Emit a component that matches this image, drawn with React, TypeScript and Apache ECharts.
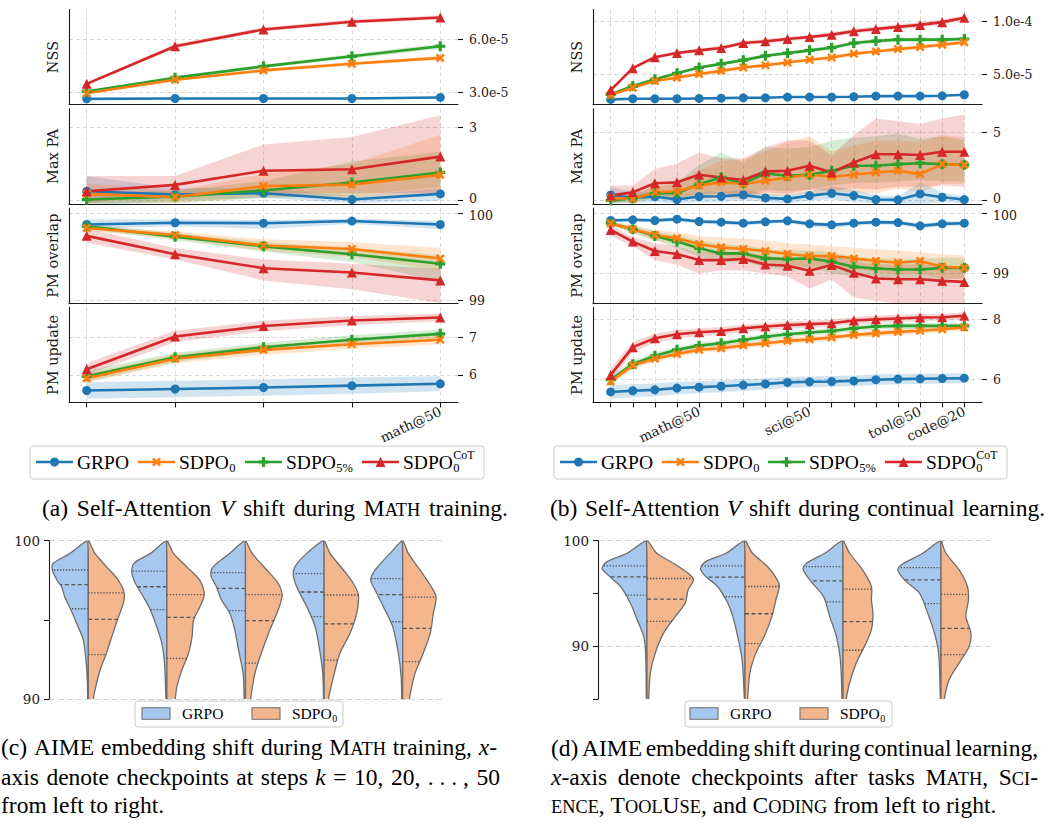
import React, { useEffect, useRef } from 'react';
import * as echarts from 'echarts';

// ---------------- data ----------------
const SERIES_NAMES = ['GRPO', 'SDPO_0', 'SDPO_5%', 'SDPO_0^CoT'];
const COLORS = ['#1f77b4', '#ff7f0e', '#2ca02c', '#d62728'];
const METRIC_NAMES = ['NSS', 'Max PA', 'PM overlap', 'PM update'];

const A_X_LABELS = ['math@10', 'math@20', 'math@30', 'math@40', 'math@50'];
const A_X_SHOWN = [4];
const B_X_LABELS = ['math@10', 'math@20', 'math@30', 'math@40', 'math@50', 'sci@10', 'sci@20', 'sci@30', 'sci@40', 'sci@50',
  'tool@10', 'tool@20', 'tool@30', 'tool@40', 'tool@50', 'code@10', 'code@20'];
const B_X_SHOWN = [4, 9, 14, 16];

// (a) NSS
const A_NSS_MEAN = [
  [2.62e-5, 2.64e-5, 2.64e-5, 2.64e-5, 2.70e-5],
  [2.94e-5, 3.70e-5, 4.23e-5, 4.61e-5, 4.94e-5],
  [3.04e-5, 3.82e-5, 4.46e-5, 5.03e-5, 5.60e-5],
  [3.47e-5, 5.60e-5, 6.55e-5, 6.99e-5, 7.23e-5],
];
const A_NSS_SD = [
  [0.05e-5, 0.05e-5, 0.05e-5, 0.05e-5, 0.05e-5],
  [0.05e-5, 0.08e-5, 0.1e-5, 0.1e-5, 0.1e-5],
  [0.05e-5, 0.08e-5, 0.1e-5, 0.12e-5, 0.15e-5],
  [0.08e-5, 0.12e-5, 0.12e-5, 0.12e-5, 0.12e-5],
];
// (a) Max PA
const A_MAXPA_MEAN = [
  [0.38, 0.24, 0.30, 0.04, 0.27],
  [0.27, 0.14, 0.59, 0.65, 1.05],
  [0.04, 0.16, 0.41, 0.74, 1.15],
  [0.38, 0.64, 1.22, 1.28, 1.80],
];
const A_MAXPA_LO = [
  [-0.2, 0.0, 0.1, -0.1, 0.0],
  [-0.1, -0.1, 0.15, 0.1, 0.3],
  [-0.2, -0.1, 0.1, 0.2, 0.55],
  [-0.1, 0.3, 0.3, 0.3, 0.3],
];
const A_MAXPA_HI = [
  [1.0, 0.5, 0.5, 0.2, 0.5],
  [0.7, 0.4, 1.1, 1.5, 2.7],
  [0.3, 0.4, 0.8, 1.6, 2.0],
  [1.0, 1.0, 2.3, 2.6, 3.5],
];
// (a) PM overlap
const A_PMO_MEAN = [
  [99.87, 99.89, 99.885, 99.91, 99.87],
  [99.83, 99.75, 99.63, 99.59, 99.48],
  [99.85, 99.73, 99.62, 99.53, 99.42],
  [99.74, 99.53, 99.37, 99.32, 99.23],
];
const A_PMO_LO = [
  [99.82, 99.85, 99.82, 99.88, 99.82],
  [99.80, 99.71, 99.57, 99.50, 99.34],
  [99.82, 99.69, 99.56, 99.44, 99.22],
  [99.66, 99.47, 99.23, 99.13, 98.97],
];
const A_PMO_HI = [
  [99.93, 99.93, 99.92, 99.94, 99.91],
  [99.86, 99.79, 99.70, 99.67, 99.60],
  [99.88, 99.77, 99.67, 99.60, 99.52],
  [99.82, 99.60, 99.47, 99.42, 99.36],
];
// (a) PM update
const A_PMU_MEAN = [
  [5.58, 5.62, 5.66, 5.71, 5.76],
  [5.91, 6.43, 6.67, 6.82, 6.94],
  [5.96, 6.47, 6.74, 6.94, 7.10],
  [6.15, 7.03, 7.31, 7.46, 7.54],
];
const A_PMU_SD = [
  [0.22, 0.22, 0.22, 0.22, 0.2],
  [0.12, 0.12, 0.13, 0.12, 0.12],
  [0.15, 0.12, 0.12, 0.12, 0.12],
  [0.16, 0.15, 0.14, 0.12, 0.1],
];
const A_Y_RANGE = [[2.3e-5, 7.68e-5], [-0.135, 3.76], [98.97, 100.058], [5.26, 7.81]];
const A_Y_TICKS = [[3e-5, 6e-5], [0, 3], [99, 100], [6, 7]];

// (b) NSS
const B_NSS_MEAN = [
  [2.63e-5, 2.69e-5, 2.69e-5, 2.69e-5, 2.72e-5, 2.75e-5, 2.78e-5, 2.78e-5, 2.85e-5, 2.85e-5, 2.85e-5, 2.88e-5, 2.94e-5, 2.94e-5, 2.94e-5, 2.97e-5, 3.07e-5],
  [3.04e-5, 3.73e-5, 4.37e-5, 4.68e-5, 5.03e-5, 5.32e-5, 5.63e-5, 5.85e-5, 6.11e-5, 6.36e-5, 6.58e-5, 6.93e-5, 7.15e-5, 7.37e-5, 7.56e-5, 7.78e-5, 8.01e-5],
  [3.10e-5, 3.89e-5, 4.53e-5, 5.09e-5, 5.63e-5, 5.98e-5, 6.33e-5, 6.74e-5, 6.99e-5, 7.25e-5, 7.50e-5, 7.94e-5, 8.13e-5, 8.26e-5, 8.26e-5, 8.26e-5, 8.32e-5],
  [3.51e-5, 5.57e-5, 6.61e-5, 7.00e-5, 7.25e-5, 7.47e-5, 7.94e-5, 8.10e-5, 8.32e-5, 8.51e-5, 8.73e-5, 9.05e-5, 9.27e-5, 9.46e-5, 9.65e-5, 9.91e-5, 10.32e-5],
];
const B_NSS_SD = [
  [0.05e-5, 0.05e-5, 0.05e-5, 0.05e-5, 0.05e-5, 0.05e-5, 0.05e-5, 0.05e-5, 0.05e-5, 0.05e-5, 0.05e-5, 0.05e-5, 0.05e-5, 0.05e-5, 0.05e-5, 0.05e-5, 0.05e-5],
  [0.08e-5, 0.1e-5, 0.12e-5, 0.12e-5, 0.14e-5, 0.15e-5, 0.15e-5, 0.16e-5, 0.16e-5, 0.17e-5, 0.17e-5, 0.18e-5, 0.18e-5, 0.18e-5, 0.18e-5, 0.2e-5, 0.2e-5],
  [0.08e-5, 0.1e-5, 0.12e-5, 0.13e-5, 0.14e-5, 0.15e-5, 0.16e-5, 0.17e-5, 0.18e-5, 0.18e-5, 0.19e-5, 0.2e-5, 0.2e-5, 0.2e-5, 0.2e-5, 0.2e-5, 0.2e-5],
  [0.12e-5, 0.15e-5, 0.16e-5, 0.17e-5, 0.18e-5, 0.18e-5, 0.2e-5, 0.2e-5, 0.2e-5, 0.21e-5, 0.22e-5, 0.22e-5, 0.23e-5, 0.23e-5, 0.24e-5, 0.25e-5, 0.25e-5],
];
// (b) Max PA
const B_MAXPA_MEAN = [
  [0.41, 0.19, 0.29, 0.07, 0.29, 0.31, 0.41, 0.19, 0.12, 0.36, 0.53, 0.36, 0.07, 0.05, 0.48, 0.24, 0.07],
  [0.19, 0.12, 0.60, 0.68, 1.09, 1.33, 1.21, 1.45, 1.69, 1.88, 1.74, 1.88, 2.05, 2.17, 1.93, 2.66, 2.61],
  [0.0, 0.17, 0.53, 0.53, 1.21, 1.69, 1.26, 1.98, 1.81, 1.88, 2.17, 2.54, 2.54, 2.66, 2.73, 2.66, 2.61],
  [0.36, 0.60, 1.26, 1.33, 1.88, 1.69, 1.50, 2.13, 2.17, 2.54, 2.05, 2.78, 3.38, 3.38, 3.33, 3.57, 3.57],
];
const B_MAXPA_LO = [
  [-0.2, -0.2, -0.1, -0.2, -0.1, -0.1, 0.0, -0.1, -0.2, 0.0, 0.1, -0.1, -0.2, -0.2, -0.3, -0.1, -0.2],
  [-0.1, -0.1, 0.2, 0.2, 0.1, 0.2, 0.1, 0.3, 0.4, 0.5, 0.6, 0.6, 0.5, 0.9, 0.6, 1.2, 1.2],
  [-0.2, -0.1, 0.1, 0.0, 0.3, 0.6, 0.3, 0.8, 0.7, 0.8, 1.1, 1.3, 1.3, 1.4, 1.5, 1.4, 1.4],
  [-0.2, 0.1, 0.4, 0.3, 0.5, 0.5, 0.3, 0.6, 0.5, 0.8, 0.7, 0.9, 0.8, 1.0, 1.0, 1.1, 1.0],
];
const B_MAXPA_HI = [
  [1.0, 0.6, 0.6, 0.3, 0.6, 0.6, 0.8, 0.5, 0.4, 0.7, 1.0, 0.8, 0.4, 0.3, 1.3, 0.6, 0.3],
  [0.5, 0.4, 1.0, 1.2, 2.2, 2.9, 3.0, 3.6, 4.3, 4.7, 3.6, 4.0, 4.4, 4.4, 4.3, 4.8, 4.6],
  [0.3, 0.5, 1.0, 1.3, 2.6, 3.5, 2.8, 3.9, 3.8, 3.9, 4.4, 4.6, 4.7, 4.9, 4.5, 4.7, 4.4],
  [1.1, 1.1, 2.3, 2.7, 3.5, 3.1, 3.1, 3.9, 4.4, 4.4, 3.3, 4.8, 6.0, 5.8, 5.6, 6.0, 6.3],
];
// (b) PM overlap
const B_PMO_MEAN = [
  [99.878, 99.889, 99.878, 99.9, 99.861, 99.85, 99.833, 99.856, 99.872, 99.822, 99.806, 99.833, 99.85, 99.844, 99.789, 99.822, 99.833],
  [99.833, 99.733, 99.639, 99.583, 99.483, 99.433, 99.406, 99.372, 99.322, 99.289, 99.289, 99.25, 99.206, 99.178, 99.206, 99.111, 99.094],
  [99.833, 99.733, 99.622, 99.528, 99.417, 99.333, 99.333, 99.25, 99.239, 99.25, 99.194, 99.111, 99.083, 99.067, 99.067, 99.094, 99.094],
  [99.722, 99.528, 99.372, 99.322, 99.222, 99.222, 99.239, 99.15, 99.128, 99.044, 99.139, 99.011, 98.917, 98.906, 98.906, 98.878, 98.861],
];
const B_PMO_LO = [
  [99.85, 99.86, 99.85, 99.87, 99.82, 99.81, 99.79, 99.82, 99.84, 99.78, 99.75, 99.79, 99.81, 99.80, 99.75, 99.78, 99.79],
  [99.80, 99.67, 99.55, 99.48, 99.35, 99.30, 99.25, 99.20, 99.15, 99.10, 99.10, 99.07, 99.02, 98.98, 99.00, 98.92, 98.90],
  [99.80, 99.68, 99.55, 99.42, 99.28, 99.18, 99.20, 99.10, 99.05, 99.10, 99.00, 98.95, 98.92, 98.88, 98.90, 98.90, 98.92],
  [99.62, 99.45, 99.22, 99.15, 99.00, 99.05, 99.05, 99.00, 98.95, 98.75, 98.90, 98.60, 98.55, 98.50, 98.50, 98.45, 98.45],
];
const B_PMO_HI = [
  [99.91, 99.92, 99.91, 99.93, 99.89, 99.88, 99.87, 99.89, 99.90, 99.86, 99.84, 99.87, 99.88, 99.88, 99.83, 99.86, 99.87],
  [99.87, 99.80, 99.72, 99.68, 99.62, 99.60, 99.58, 99.55, 99.50, 99.48, 99.45, 99.43, 99.40, 99.38, 99.35, 99.32, 99.30],
  [99.86, 99.78, 99.70, 99.63, 99.55, 99.48, 99.47, 99.40, 99.38, 99.38, 99.35, 99.28, 99.25, 99.25, 99.24, 99.26, 99.26],
  [99.80, 99.60, 99.50, 99.45, 99.35, 99.35, 99.35, 99.30, 99.25, 99.25, 99.30, 99.20, 99.15, 99.15, 99.15, 99.15, 99.10],
];
// (b) PM update
const B_PMU_MEAN = [
  [5.57, 5.61, 5.64, 5.70, 5.73, 5.76, 5.80, 5.84, 5.89, 5.91, 5.92, 5.94, 5.98, 6.00, 6.01, 6.02, 6.03],
  [5.92, 6.46, 6.68, 6.84, 6.98, 7.03, 7.13, 7.20, 7.28, 7.33, 7.39, 7.48, 7.53, 7.58, 7.62, 7.67, 7.73],
  [5.98, 6.50, 6.78, 6.98, 7.12, 7.20, 7.31, 7.42, 7.50, 7.56, 7.61, 7.70, 7.76, 7.78, 7.78, 7.78, 7.78],
  [6.14, 7.07, 7.37, 7.50, 7.57, 7.61, 7.70, 7.76, 7.81, 7.84, 7.87, 7.96, 8.00, 8.03, 8.06, 8.07, 8.12],
];
const B_PMU_SD = [
  [0.22, 0.22, 0.21, 0.21, 0.2, 0.2, 0.2, 0.19, 0.19, 0.18, 0.18, 0.18, 0.18, 0.17, 0.17, 0.17, 0.17],
  [0.12, 0.12, 0.11, 0.11, 0.1, 0.1, 0.1, 0.1, 0.1, 0.1, 0.1, 0.1, 0.1, 0.1, 0.1, 0.1, 0.1],
  [0.15, 0.12, 0.11, 0.1, 0.1, 0.1, 0.1, 0.1, 0.1, 0.1, 0.1, 0.1, 0.1, 0.1, 0.1, 0.1, 0.1],
  [0.22, 0.17, 0.15, 0.14, 0.13, 0.13, 0.12, 0.12, 0.12, 0.12, 0.12, 0.12, 0.12, 0.12, 0.12, 0.12, 0.12],
];
const B_Y_RANGE = [[2.15e-5, 1.11e-4], [-0.24, 6.71], [98.51, 100.083], [5.22, 8.4]];
const B_Y_TICKS = [[5e-5, 1e-4], [0, 5], [99, 100], [6, 8]];

// (c) violins: profile = [value, half width in category units], quartiles = [Q1, median, Q3]
const C_GRPO_PROFILES = [
  [[100, 0], [99.2, 0.233], [98.57, 0.445], [98.15, 0.458], [97.52, 0.40], [97.09, 0.34], [96.46, 0.30], [95.62, 0.22], [94.57, 0.13], [93.73, 0.064], [92.46, 0.03], [91.2, 0.013], [90, 0.008], [89, 0.006]],
  [[100, 0], [99.2, 0.21], [98.57, 0.42], [97.94, 0.445], [97.31, 0.40], [96.46, 0.30], [95.62, 0.21], [94.57, 0.13], [93.52, 0.064], [92.25, 0.03], [90, 0.013], [89, 0.01]],
  [[100, 0], [99.2, 0.2], [98.36, 0.41], [97.83, 0.44], [97.09, 0.37], [96.25, 0.305], [95.41, 0.2], [94.36, 0.136], [92.88, 0.08], [91.62, 0.03], [90, 0.017], [89, 0.012]],
  [[100, 0], [99.2, 0.22], [98.36, 0.37], [97.73, 0.39], [96.88, 0.33], [95.83, 0.22], [94.57, 0.114], [92.88, 0.05], [91.62, 0.017], [90, 0.008], [89, 0.006]],
  [[100, 0], [99.2, 0.16], [98.15, 0.35], [97.52, 0.407], [96.88, 0.35], [95.83, 0.246], [94.57, 0.127], [92.88, 0.055], [91.41, 0.02], [90, 0.013], [89, 0.01]],
];
const C_SDPO_PROFILES = [
  [[100, 0], [99.2, 0.085], [98.36, 0.23], [97.52, 0.38], [96.67, 0.458], [96.04, 0.445], [94.99, 0.37], [93.94, 0.30], [92.88, 0.23], [91.83, 0.15], [90.57, 0.085], [90, 0.064], [89, 0.04]],
  [[100, 0], [99.2, 0.085], [98.36, 0.25], [97.52, 0.415], [96.57, 0.475], [95.83, 0.42], [94.99, 0.34], [93.94, 0.32], [92.88, 0.275], [91.83, 0.19], [90.78, 0.127], [90, 0.106], [89, 0.08]],
  [[100, 0], [99.2, 0.085], [98.15, 0.27], [97.31, 0.415], [96.57, 0.466], [95.62, 0.415], [94.36, 0.31], [92.88, 0.2], [91.62, 0.12], [90, 0.064], [89, 0.04]],
  [[100, 0], [99.2, 0.076], [98.15, 0.246], [97.31, 0.37], [96.57, 0.436], [95.41, 0.415], [94.15, 0.33], [92.88, 0.2], [91.41, 0.12], [90, 0.055], [89, 0.04]],
  [[100, 0], [99.2, 0.072], [98.15, 0.22], [97.2, 0.35], [96.46, 0.424], [95.41, 0.39], [94.15, 0.35], [92.88, 0.26], [91.62, 0.157], [90, 0.085], [89, 0.07]],
];
const C_GRPO_QUARTILES = [[95.7, 97.22, 98.15], [95.64, 97.09, 98.08], [95.58, 96.99, 97.98], [95.2, 96.76, 97.92], [94.88, 96.59, 97.6]];
const C_SDPO_QUARTILES = [[92.8, 95.03, 96.7], [92.57, 95.16, 96.59], [92.27, 94.95, 96.59], [92.46, 94.74, 96.57], [92.36, 94.46, 96.44]];

// (d) violins
const D_GRPO_PROFILES = [
  [[100, 0], [98.81, 0.203], [98.02, 0.407], [97.39, 0.458], [96.76, 0.4], [95.66, 0.27], [94.09, 0.17], [92.52, 0.1], [90.94, 0.034], [89.37, 0.014], [85.06, 0.007], [84.5, 0.006]],
  [[100, 0], [98.81, 0.193], [98.02, 0.4], [97.39, 0.454], [96.6, 0.4], [95.66, 0.28], [94.09, 0.176], [92.83, 0.125], [90.94, 0.075], [88.74, 0.03], [85.06, 0.007], [84.5, 0.006]],
  [[100, 0], [98.81, 0.186], [97.86, 0.373], [97.3, 0.407], [96.29, 0.34], [94.72, 0.2], [92.83, 0.136], [90.94, 0.068], [88.74, 0.027], [85.06, 0.01], [84.5, 0.01]],
  [[100, 0], [98.81, 0.186], [97.7, 0.407], [97.23, 0.44], [96.29, 0.373], [95.03, 0.22], [93.14, 0.136], [91.26, 0.068], [89.37, 0.024], [85.06, 0.007], [84.5, 0.006]],
];
const D_SDPO_PROFILES = [
  [[100, 0], [98.81, 0.1], [97.86, 0.27], [96.92, 0.42], [96.29, 0.475], [95.35, 0.42], [94.09, 0.39], [92.83, 0.29], [91.26, 0.17], [89.37, 0.085], [87.48, 0.034], [85.06, 0.017], [84.5, 0.015]],
  [[100, 0], [98.81, 0.078], [97.55, 0.23], [96.29, 0.33], [95.66, 0.35], [94.4, 0.315], [92.83, 0.275], [90.94, 0.197], [89.37, 0.112], [87.48, 0.05], [85.06, 0.027], [84.5, 0.025]],
  [[100, 0], [98.81, 0.068], [97.23, 0.2], [95.66, 0.29], [94.4, 0.29], [93.14, 0.305], [91.57, 0.29], [90, 0.22], [88.43, 0.136], [86.54, 0.068], [85.06, 0.034], [84.5, 0.03]],
  [[100, 0], [98.81, 0.05], [97.23, 0.186], [95.66, 0.27], [94.4, 0.28], [92.83, 0.254], [91.26, 0.305], [90, 0.288], [88.43, 0.186], [86.86, 0.085], [85.06, 0.034], [84.5, 0.03]],
];
const D_GRPO_QUARTILES = [[94.84, 96.57, 97.61], [94.69, 96.54, 97.61], [94.21, 96.2, 97.55], [94.03, 96.29, 97.45]];
const D_SDPO_QUARTILES = [[92.36, 94.47, 96.42], [90.25, 93.08, 95.66], [89.62, 92.33, 95.41], [89.21, 91.7, 94.91]];

const C_Y_RANGE = [90, 100];
const C_Y_TICKS = [90, 95, 100];
const D_Y_RANGE = [85, 100];
const D_Y_TICKS = [85, 90, 95, 100];
const VIOLIN_Y_LABELS = [90, 100];

// ---------------- styling ----------------
const AX_FONT = '"DejaVu Serif", serif';
const TX_NAME = 'Liberation Serif';
const TX_FONT = '"Liberation Serif", serif';
const INK = '#1a1a1a';
const GRID_COLOR = '#d9d9d9';
const VIOLIN_FILL = ['#a7c8ee', '#f3b68d'];
const VIOLIN_EDGE = '#6e6e6e';

const X_PTS = [[2, 0], [5, 3], [8, 0], [10, 2], [7, 5], [10, 8], [8, 10], [5, 7], [2, 10], [0, 8], [3, 5], [0, 2]];
const PLUS_PTS = [[3.4, 0], [6.6, 0], [6.6, 3.4], [10, 3.4], [10, 6.6], [6.6, 6.6], [6.6, 10], [3.4, 10], [3.4, 6.6], [0, 6.6], [0, 3.4], [3.4, 3.4]];
const TRI_PTS = [[5, 0], [10, 10], [0, 10]];
const toPath = (pts: number[][]) => 'path://M' + pts.map(p => p[0] + ' ' + p[1]).join('L') + 'Z';
const SYMBOLS = ['circle', toPath(X_PTS), toPath(PLUS_PTS), 'triangle'];
const SYMBOL_SIZES = [9, 9, 10, 10];
const DRAW_ORDER = [0, 2, 1, 3];

function rgba(hex: string, a: number) {
  const n = parseInt(hex.slice(1), 16);
  return `rgba(${(n >> 16) & 255},${(n >> 8) & 255},${n & 255},${a})`;
}

function bandFromSd(mean: number[][], sd: number[][], sign: number) {
  return mean.map((row, s) => row.map((v, i) => v + sign * sd[s][i]));
}

function interpWidth(prof: number[][], q: number) {
  for (let k = 0; k < prof.length - 1; k++) {
    const [v0, w0] = prof[k];
    const [v1, w1] = prof[k + 1];
    if (q <= v0 && q >= v1) {
      const t = (v0 - q) / (v0 - v1);
      return w0 + t * (w1 - w0);
    }
  }
  return 0;
}

// text measuring for captions
let measureCtx: CanvasRenderingContext2D | null = null;
function textW(t: string, size: number, italic: boolean) {
  if (!measureCtx) measureCtx = document.createElement('canvas').getContext('2d');
  measureCtx!.font = `${italic ? 'italic ' : ''}${size}px "${TX_NAME}"`;
  return measureCtx!.measureText(t).width;
}

type Seg = [string, string];
const words = (s: string): Seg[][] => s.split(' ').map(w => [[w, 'n'] as Seg]);

const CAP_FS = 23.5;
const CAP_A: Seg[][] = [...words('(a) Self-Attention'), [['V', 'i']], ...words('shift during'), [['M', 'n'], ['ATH', 'c']], ...words('training.')];
const CAP_B: Seg[][] = [...words('(b) Self-Attention'), [['V', 'i']], ...words('shift during continual learning.')];
const CAP_C1: Seg[][] = [...words('(c) AIME embedding shift during'), [['M', 'n'], ['ATH', 'c']], ...words('training,'), [['x', 'i'], ['-', 'n']]];
const CAP_C2: Seg[][] = [...words('axis denote checkpoints at steps'), [['k', 'i']], [['=', 'n']], [['10,', 'n']], [['20,', 'n']], [['. . . ,', 'n']], [['50', 'n']]];
const CAP_C3: Seg[][] = words('from left to right.');
const CAP_D1: Seg[][] = words('(d) AIME embedding shift during continual learning,');
const CAP_D2: Seg[][] = [[['x', 'i'], ['-axis', 'n']], ...words('denote checkpoints after tasks'), [['M', 'n'], ['ATH', 'c'], [',', 'n']], [['S', 'n'], ['CI', 'c'], ['-', 'n']]];
const CAP_D3: Seg[][] = [[['ENCE', 'c'], [',', 'n']], [['T', 'n'], ['OOL', 'c'], ['U', 'n'], ['SE', 'c'], [',', 'n']], ...words('and'), [['C', 'n'], ['ODING', 'c']], ...words('from left to right.')];

function captionLine(tokens: Seg[][], x0: number, x1: number | null, yc: number, fs: number) {
  const SC = 0.78;
  const segSize = (s: Seg) => (s[1] === 'c' ? fs * SC : fs);
  const tokW = tokens.map(t => t.reduce((a, s) => a + textW(s[0], segSize(s), s[1] === 'i'), 0));
  const total = tokW.reduce((a, b) => a + b, 0);
  const gap = x1 != null && tokens.length > 1 ? (x1 - x0 - total) / (tokens.length - 1) : textW(' ', fs, false);
  const els: any[] = [];
  let x = x0;
  tokens.forEach((t, k) => {
    let xx = x;
    t.forEach(s => {
      const sz = segSize(s);
      els.push({
        type: 'text', x: xx, y: yc + 0.3 * (fs - sz), silent: true,
        style: { text: s[0], fill: '#000', fontSize: sz, fontFamily: TX_FONT, fontStyle: s[1] === 'i' ? 'italic' : 'normal', align: 'left', verticalAlign: 'middle' },
      });
      xx += textW(s[0], sz, s[1] === 'i');
    });
    x += tokW[k] + gap;
  });
  return els;
}

function markerEl(kind: number, cx: number, cy: number, color: string) {
  if (kind === 0) return { type: 'circle', shape: { cx, cy, r: 4.5 }, style: { fill: color }, silent: true };
  const pts = kind === 1 ? X_PTS : kind === 2 ? PLUS_PTS : TRI_PTS;
  const sc = SYMBOL_SIZES[kind] / 10;
  return {
    type: 'polygon', silent: true,
    shape: { points: pts.map(p => [cx + (p[0] - 5) * sc, cy + (p[1] - 5) * sc]) },
    style: { fill: color },
  };
}

function labelEls(s: number, x: number, y: number, fs: number) {
  const subFs = fs * 0.64;
  const els: any[] = [];
  const main = s === 0 ? 'GRPO' : 'SDPO';
  els.push({ type: 'text', x, y, silent: true, style: { text: main, fontSize: fs, fontFamily: TX_FONT, fill: '#000', align: 'left', verticalAlign: 'middle' } });
  const w = textW(main, fs, false);
  if (s >= 1) {
    const sub = s === 2 ? '5%' : '0';
    els.push({ type: 'text', x: x + w + 0.5, y: y + fs * 0.3, silent: true, style: { text: sub, fontSize: subFs, fontFamily: TX_FONT, fill: '#000', align: 'left', verticalAlign: 'middle' } });
  }
  if (s === 3) {
    els.push({ type: 'text', x: x + w + 0.5, y: y - fs * 0.36, silent: true, style: { text: 'CoT', fontSize: subFs * 0.95, fontFamily: TX_FONT, fill: '#000', align: 'left', verticalAlign: 'middle' } });
  }
  return els;
}

function lineLegend(box: number[], lineStarts: number[], yc: number) {
  const els: any[] = [{
    type: 'rect', silent: true, shape: { x: box[0], y: box[1], width: box[2], height: box[3], r: 3 },
    style: { fill: '#fff', stroke: '#cccccc', lineWidth: 1 },
  }];
  lineStarts.forEach((x0, s) => {
    els.push({ type: 'line', silent: true, shape: { x1: x0, y1: yc, x2: x0 + 37, y2: yc }, style: { stroke: COLORS[s], lineWidth: 2.6 } });
    els.push(markerEl(s, x0 + 18.5, yc, COLORS[s]));
    els.push(...labelEls(s, x0 + 41, yc, 19.5));
  });
  return els;
}

function violinLegend(box: number[], patchX: number[], yc: number) {
  const els: any[] = [{
    type: 'rect', silent: true, shape: { x: box[0], y: box[1], width: box[2], height: box[3], r: 3 },
    style: { fill: '#fff', stroke: '#cccccc', lineWidth: 1 },
  }];
  patchX.forEach((x0, s) => {
    els.push({ type: 'rect', silent: true, shape: { x: x0, y: yc - 5.8, width: 28, height: 11.6 }, style: { fill: VIOLIN_FILL[s], stroke: VIOLIN_EDGE, lineWidth: 1.1 } });
    els.push(...labelEls(s === 0 ? 0 : 1, x0 + 40, yc, 15.5));
  });
  return els;
}

function buildOption() {
  const grid: any[] = [];
  const xAxis: any[] = [];
  const yAxis: any[] = [];
  const series: any[] = [];
  const tickRich = {
    up: { padding: [0, 0, 5, 0], fontFamily: AX_FONT, fontSize: 12.5, color: INK },
    dn: { padding: [5, 0, 0, 0], fontFamily: AX_FONT, fontSize: 12.5, color: INK },
  };

  const addLinePanel = (left: number, xLabels: string[], shown: number[], means: number[][][], los: number[][][], his: number[][][], ranges: number[][], ticks: number[][]) => {
    const n = xLabels.length;
    const pad = (n - 1) * 0.05;
    const xs = xLabels.map((_, i) => i);
    for (let m = 0; m < 4; m++) {
      const g = grid.length;
      grid.push({ left, top: 9.5 + m * 99.3, width: 389, height: 95 });
      xAxis.push({
        type: 'value', gridIndex: g, min: -pad, max: n - 1 + pad,
        axisLine: { show: true, onZero: false, lineStyle: { color: INK, width: 1.1 } },
        axisTick: { show: m === 3, customValues: xs, length: 5, lineStyle: { color: INK, width: 1.1 } },
        axisLabel: {
          show: m === 3, customValues: shown, rotate: 25, margin: 8,
          formatter: (v: number) => xLabels[Math.round(v)] ?? '',
          fontFamily: AX_FONT, fontSize: 13.5, color: INK,
        },
        splitLine: { show: true, lineStyle: { color: GRID_COLOR, type: [4, 3], width: 1 } },
      });
      const [ymin, ymax] = ranges[m];
      yAxis.push({
        type: 'value', gridIndex: g, position: 'left', min: ymin, max: ymax,
        axisLine: { show: true, onZero: false, lineStyle: { color: INK, width: 1.1 } },
        axisTick: { show: false }, axisLabel: { show: false }, splitLine: { show: false },
        name: METRIC_NAMES[m], nameLocation: 'middle', nameGap: 9, nameRotate: 90,
        nameTextStyle: { fontFamily: AX_FONT, fontSize: 14.5, color: INK },
      });
      const yi = yAxis.length;
      yAxis.push({
        type: 'value', gridIndex: g, position: 'right', min: ymin, max: ymax,
        axisLine: { show: false, onZero: false },
        axisTick: { show: true, customValues: ticks[m], length: 5, lineStyle: { color: INK, width: 1.1 } },
        axisLabel: {
          customValues: ticks[m], margin: 11, fontFamily: AX_FONT, fontSize: 12.5, color: INK,
          rich: tickRich,
          formatter: (v: number) => {
            if (m === 0) return v.toExponential(1);
            const r = Math.round(v);
            if (m === 1 && r === 0) return '{up|0}';
            if (m === 2 && r === 100) return '{dn|100}';
            return String(r);
          },
        },
        splitLine: { show: true, lineStyle: { color: GRID_COLOR, type: [4, 3], width: 1 } },
      });
      // bands
      DRAW_ORDER.forEach(s => {
        const lo = los[m][s];
        const hi = his[m][s];
        series.push({
          type: 'custom', xAxisIndex: g, yAxisIndex: yi, clip: true, silent: true, z: 1,
          data: lo.map((v, i) => [i, v, hi[i]]),
          renderItem: (params: any, api: any) => {
            if (params.dataIndex !== 0) return null;
            const top = hi.map((v, i) => api.coord([i, v]));
            const bot = lo.map((v, i) => api.coord([i, v])).reverse();
            return { type: 'polygon', shape: { points: top.concat(bot) }, style: { fill: rgba(COLORS[s], 0.2) } };
          },
        });
      });
      DRAW_ORDER.forEach(s => {
        series.push({
          type: 'line', name: SERIES_NAMES[s], xAxisIndex: g, yAxisIndex: yi, z: 3, silent: true,
          data: means[m][s].map((v, i) => [i, v]),
          symbol: SYMBOLS[s], symbolSize: SYMBOL_SIZES[s], showSymbol: true,
          lineStyle: { color: COLORS[s], width: 2.6 }, itemStyle: { color: COLORS[s] },
        });
      });
    }
  };

  addLinePanel(69, A_X_LABELS, A_X_SHOWN,
    [A_NSS_MEAN, A_MAXPA_MEAN, A_PMO_MEAN, A_PMU_MEAN],
    [bandFromSd(A_NSS_MEAN, A_NSS_SD, -1), A_MAXPA_LO, A_PMO_LO, bandFromSd(A_PMU_MEAN, A_PMU_SD, -1)],
    [bandFromSd(A_NSS_MEAN, A_NSS_SD, 1), A_MAXPA_HI, A_PMO_HI, bandFromSd(A_PMU_MEAN, A_PMU_SD, 1)],
    A_Y_RANGE, A_Y_TICKS);
  addLinePanel(593, B_X_LABELS, B_X_SHOWN,
    [B_NSS_MEAN, B_MAXPA_MEAN, B_PMO_MEAN, B_PMU_MEAN],
    [bandFromSd(B_NSS_MEAN, B_NSS_SD, -1), B_MAXPA_LO, B_PMO_LO, bandFromSd(B_PMU_MEAN, B_PMU_SD, -1)],
    [bandFromSd(B_NSS_MEAN, B_NSS_SD, 1), B_MAXPA_HI, B_PMO_HI, bandFromSd(B_PMU_MEAN, B_PMU_SD, 1)],
    B_Y_RANGE, B_Y_TICKS);

  const addViolinPanel = (left: number, width: number, profiles: number[][][][], quartiles: number[][][], yRange: number[], yTicks: number[]) => {
    const n = profiles[0].length;
    const g = grid.length;
    grid.push({ left, top: 540.7, width, height: 158.3 });
    xAxis.push({ type: 'value', gridIndex: g, min: -0.5, max: n - 0.5, show: false });
    const yi = yAxis.length;
    yAxis.push({
      type: 'value', gridIndex: g, position: 'left', min: yRange[0], max: yRange[1],
      axisLine: { show: true, onZero: false, lineStyle: { color: INK, width: 1.1 } },
      axisTick: { show: true, customValues: yTicks, length: 5, lineStyle: { color: INK, width: 1.1 } },
      axisLabel: { customValues: VIOLIN_Y_LABELS, margin: 9, fontFamily: AX_FONT, fontSize: 13.5, color: INK },
      splitLine: { show: false },
    });
    yAxis.push({
      type: 'value', gridIndex: g, position: 'left', min: yRange[0], max: yRange[1],
      axisLine: { show: false, onZero: false }, axisTick: { show: false, customValues: VIOLIN_Y_LABELS },
      axisLabel: { show: false },
      splitLine: { show: true, lineStyle: { color: '#d3d3d3', type: [6, 3], width: 1 } },
    });
    [0, 1].forEach(h => {
      const side = h === 0 ? -1 : 1;
      const profs = profiles[h];
      const qs = quartiles[h];
      series.push({
        type: 'custom', xAxisIndex: g, yAxisIndex: yi, clip: true, silent: true, z: 2,
        data: profs.map((_, i) => [i, qs[i][1]]),
        renderItem: (params: any, api: any) => {
          const i = params.dataIndex;
          const prof = profs[i];
          const edge = prof.map(([v, w]) => api.coord([i + side * w, v]));
          const center = prof.slice().reverse().map(([v]) => api.coord([i, v]));
          const pts = edge.concat(center.slice(0, center.length - 1));
          const children: any[] = [{
            type: 'polygon', shape: { points: pts, smooth: 0.3 },
            style: { fill: VIOLIN_FILL[h], stroke: VIOLIN_EDGE, lineWidth: 1.3 },
          }];
          qs[i].forEach((q, k) => {
            const w = interpWidth(prof, q);
            const a = api.coord([i, q]);
            const b = api.coord([i + side * w, q]);
            children.push({
              type: 'line', shape: { x1: a[0], y1: a[1], x2: b[0], y2: b[1] },
              style: { stroke: '#575757', lineWidth: 1.3, lineDash: k === 1 ? [4, 2.5] : [1.4, 1.6] },
            });
          });
          return { type: 'group', children };
        },
      });
    });
  };

  addViolinPanel(49, 393, [C_GRPO_PROFILES, C_SDPO_PROFILES], [C_GRPO_QUARTILES, C_SDPO_QUARTILES], C_Y_RANGE, C_Y_TICKS);
  addViolinPanel(598, 392, [D_GRPO_PROFILES, D_SDPO_PROFILES], [D_GRPO_QUARTILES, D_SDPO_QUARTILES], D_Y_RANGE, D_Y_TICKS);

  const graphicEls: any[] = [
    ...lineLegend([30, 446, 454, 33], [36, 138, 245, 362], 462),
    ...lineLegend([554, 446, 453, 33], [560, 662, 768, 885], 462),
    ...violinLegend([135, 701, 208, 26], [142, 252], 713.5),
    ...violinLegend([685, 701, 207, 26], [690, 800], 713.5),
    ...captionLine(CAP_A, 42, 508, 508, CAP_FS),
    ...captionLine(CAP_B, 550, 1045, 508, CAP_FS),
    ...captionLine(CAP_C1, 1, 497, 747, CAP_FS),
    ...captionLine(CAP_C2, 1, 500, 776.5, CAP_FS),
    ...captionLine(CAP_C3, 1, null, 805, CAP_FS),
    ...captionLine(CAP_D1, 551, 1038, 748, CAP_FS),
    ...captionLine(CAP_D2, 551, 1038, 777, CAP_FS),
    ...captionLine(CAP_D3, 551, null, 805, CAP_FS),
  ];

  return {
    animation: false,
    backgroundColor: '#ffffff',
    grid, xAxis, yAxis, series,
    graphic: { elements: graphicEls },
  };
}

export default function App() {
  const ref = useRef<HTMLDivElement>(null);
  useEffect(() => {
    const chart = echarts.init(ref.current!, null, { renderer: 'svg' });
    chart.setOption(buildOption());
    return () => chart.dispose();
  }, []);
  return <div ref={ref} style={{ position: 'absolute', left: 0, top: 0, width: 1061, height: 824, background: '#fff' }} />;
}
